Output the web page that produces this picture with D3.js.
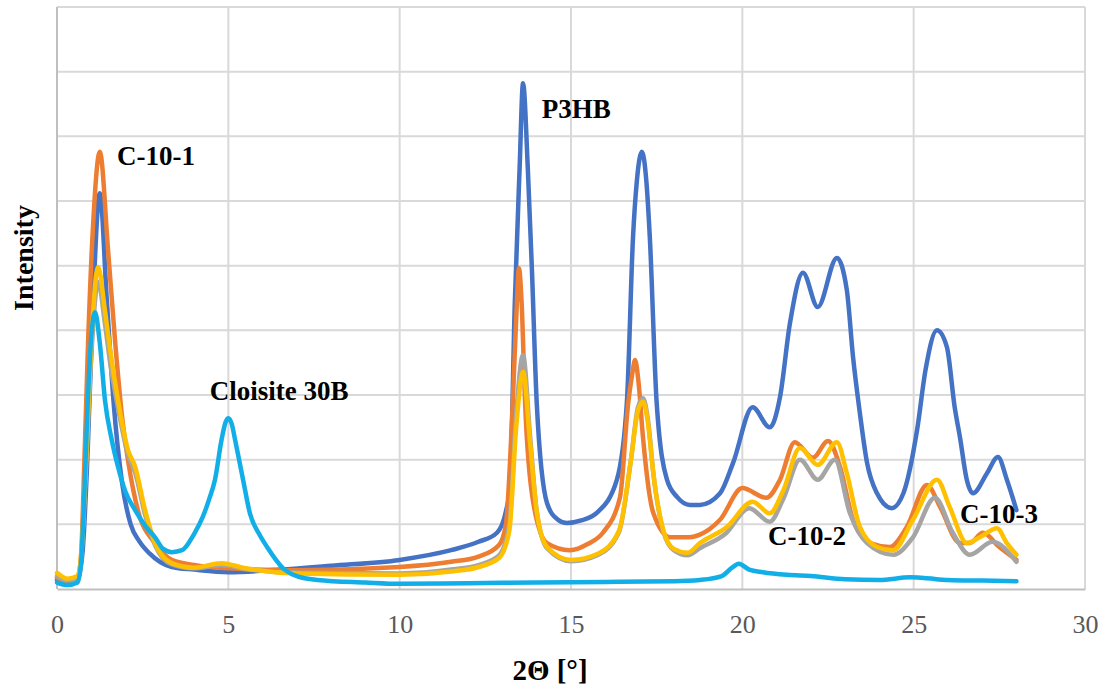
<!DOCTYPE html>
<html>
<head>
<meta charset="utf-8">
<script src="https://cdn.jsdelivr.net/npm/d3@7"></script>
<style>
  body { margin: 0; background: #fff; }
  svg { display: block; }
</style>
</head>
<body>
<div id="chart"></div>
<script>
// XRD patterns, 2theta [deg] vs intensity (arbitrary units)
const p3hb = [[0,0.14],[0.3,0.1],[0.6,0.15],[0.75,0.6],[0.9,2.2],[1.05,4.4],[1.25,6.12],[1.45,4.5],[1.65,2.9],[1.9,1.64],[2.15,1.0],[2.4,0.74],[2.7,0.55],[3.35,0.34],[4,0.3],[5,0.26],[6.5,0.3],[8,0.36],[10,0.45],[11.5,0.6],[12.3,0.73],[12.84,0.87],[13.1,1.2],[13.22,1.58],[13.36,4.42],[13.5,6.5],[13.6,7.82],[13.74,6.5],[13.86,4.93],[14.0,2.88],[14.3,1.33],[14.6,1.08],[14.88,1.02],[15.3,1.06],[15.76,1.18],[16.34,1.69],[16.63,2.88],[16.81,5.44],[16.92,6.3],[17.07,6.76],[17.2,6.3],[17.3,5.44],[17.5,2.88],[17.8,1.69],[18.1,1.42],[18.47,1.3],[18.76,1.3],[19.35,1.48],[19.73,1.95],[20.3,2.81],[20.8,2.5],[21.1,2.97],[21.39,4.11],[21.77,4.89],[22.2,4.36],[22.76,5.12],[23.05,4.62],[23.23,3.59],[23.43,2.72],[23.64,1.95],[23.93,1.48],[24.36,1.25],[24.7,1.48],[25.1,2.46],[25.35,3.4],[25.68,4.0],[25.97,3.74],[26.2,2.8],[26.35,2.35],[26.55,1.69],[26.73,1.48],[27.14,1.79],[27.46,2.04],[27.72,1.69],[28.0,1.22]];

const c101 = [[0,0.17],[0.3,0.12],[0.6,0.18],[0.7,0.5],[0.8,2.0],[0.9,3.7],[1.05,5.6],[1.25,6.76],[1.49,5.24],[1.7,3.8],[1.9,2.66],[2.1,1.9],[2.36,1.22],[2.86,0.71],[3.35,0.45],[4,0.37],[5,0.32],[7,0.29],[10,0.34],[11.5,0.42],[12.3,0.5],[12.9,0.68],[13.1,1.0],[13.3,2.88],[13.42,4.42],[13.48,4.96],[13.56,4.42],[13.66,2.88],[13.9,1.33],[14.3,0.71],[14.97,0.6],[15.5,0.7],[15.93,0.87],[16.43,1.42],[16.67,2.88],[16.78,3.3],[16.87,3.54],[16.97,3.2],[17.1,2.35],[17.4,1.18],[17.9,0.8],[18.47,0.8],[18.76,0.84],[19.35,1.07],[20.0,1.56],[20.7,1.41],[21.1,1.69],[21.53,2.27],[22.06,2.03],[22.5,2.29],[22.85,1.89],[23.23,1.07],[23.73,0.71],[24.3,0.65],[24.8,0.96],[25.39,1.61],[25.77,1.27],[26.35,0.71],[26.64,0.71],[27.02,0.87],[27.5,0.65],[28.0,0.45]];

const c102 = [[0,0.2],[0.3,0.13],[0.6,0.17],[0.7,0.45],[0.85,1.9],[1.0,3.6],[1.2,4.75],[1.4,4.1],[1.55,3.5],[1.78,2.8],[2.07,2.08],[2.28,1.8],[2.57,1.15],[2.86,0.68],[3.35,0.38],[4.0,0.32],[4.8,0.37],[5.5,0.31],[7,0.25],[10,0.24],[11.5,0.3],[12.3,0.37],[12.9,0.52],[13.2,1.0],[13.4,2.7],[13.6,3.62],[13.8,2.4],[14.0,1.2],[14.3,0.63],[15.0,0.43],[15.8,0.53],[16.4,0.88],[16.75,2.0],[16.95,2.8],[17.1,2.95],[17.25,2.6],[17.4,1.8],[17.7,0.88],[18.0,0.6],[18.4,0.52],[18.76,0.63],[19.5,0.85],[20.2,1.25],[20.8,1.04],[21.2,1.4],[21.68,2.0],[22.2,1.69],[22.7,2.0],[23.14,1.17],[23.64,0.71],[24.4,0.53],[24.98,0.8],[25.62,1.41],[26.14,0.87],[26.64,0.53],[27.3,0.73],[28.0,0.42]];

const c103 = [[0,0.25],[0.3,0.16],[0.6,0.2],[0.7,0.5],[0.85,2.0],[1.0,3.8],[1.2,4.98],[1.4,4.3],[1.55,3.7],[1.78,2.92],[2.07,2.15],[2.28,1.89],[2.57,1.22],[2.86,0.71],[3.35,0.4],[4.0,0.33],[4.8,0.4],[5.5,0.32],[7,0.24],[10,0.22],[11.5,0.27],[12.3,0.34],[12.9,0.48],[13.2,0.9],[13.4,2.5],[13.6,3.36],[13.8,2.3],[14.0,1.2],[14.3,0.65],[15.0,0.45],[15.8,0.55],[16.4,0.9],[16.75,2.0],[16.95,2.75],[17.1,2.9],[17.25,2.55],[17.4,1.8],[17.7,0.9],[18.0,0.62],[18.4,0.56],[18.76,0.71],[19.55,0.96],[20.3,1.35],[20.8,1.17],[21.2,1.53],[21.68,2.18],[22.2,1.92],[22.76,2.27],[23.05,1.79],[23.43,0.96],[23.93,0.65],[24.4,0.6],[24.98,1.07],[25.68,1.69],[26.05,1.27],[26.55,0.71],[26.93,0.8],[27.43,0.94],[27.72,0.71],[28.0,0.53]];

const cloisite = [[0,0.1],[0.3,0.06],[0.6,0.1],[0.7,0.4],[0.8,1.5],[0.88,2.66],[1.0,3.9],[1.11,4.28],[1.25,3.8],[1.4,2.92],[1.6,2.3],[1.78,1.89],[2.0,1.5],[2.28,1.22],[2.57,0.98],[2.86,0.8],[3.1,0.62],[3.35,0.57],[3.65,0.6],[4.0,0.85],[4.25,1.11],[4.46,1.42],[4.61,1.69],[4.8,2.3],[4.92,2.58],[5.0,2.64],[5.1,2.55],[5.2,2.3],[5.43,1.69],[5.63,1.17],[5.9,0.85],[6.13,0.65],[6.6,0.32],[7.0,0.2],[7.6,0.14],[9,0.1],[10,0.08],[12,0.09],[14,0.1],[16,0.11],[18,0.12],[18.76,0.14],[19.4,0.2],[19.7,0.33],[19.9,0.39],[20.2,0.3],[20.6,0.26],[21.3,0.22],[22.0,0.2],[23,0.15],[24,0.14],[24.9,0.18],[25.3,0.17],[26,0.14],[27,0.13],[28,0.12]];

const xTicks = [0, 5, 10, 15, 20, 25, 30];

// draw order: first one at the bottom
const series = [
    {name: 'P3HB', values: p3hb, color: '#4472C4'},
    {name: 'C-10-1', values: c101, color: '#ED7D31'},
    {name: 'C-10-2', values: c102, color: '#A5A5A5'},
    {name: 'C-10-3', values: c103, color: '#FFC000'},
    {name: 'Cloisite 30B', values: cloisite, color: '#12AEE8'}
];

// curve labels, anchored in data units (left edge, baseline)
const labels = [
    {text: 'C-10-1', x: 1.75, y: 6.56},
    {text: 'P3HB', x: 14.15, y: 7.28},
    {text: 'Cloisite 30B', x: 4.46, y: 2.92},
    {text: 'C-10-2', x: 20.75, y: 0.68},
    {text: 'C-10-3', x: 26.35, y: 1.02}
];

const width = 1105, height = 685;
const margin = {top: 7, right: 20, bottom: 96, left: 57};
const serif = '"Liberation Serif", "Times New Roman", serif';

const svg = d3.select('#chart').append('svg')
    .attr('width', width)
    .attr('height', height);

const xScale = d3.scaleLinear()
    .domain([0, 30])
    .range([margin.left, width - margin.right]);

const yScale = d3.scaleLinear()
    .domain([0, 9])
    .range([height - margin.bottom, margin.top]);

// gridlines
svg.append('g')
    .selectAll('line')
    .data(d3.range(1, 10))
    .enter().append('line')
    .attr('x1', xScale(0)).attr('x2', xScale(30))
    .attr('y1', d => yScale(d)).attr('y2', d => yScale(d))
    .attr('stroke', '#D9D9D9').attr('stroke-width', 2);

svg.append('g')
    .selectAll('line')
    .data(xTicks.slice(1))
    .enter().append('line')
    .attr('x1', d => xScale(d)).attr('x2', d => xScale(d))
    .attr('y1', yScale(0)).attr('y2', yScale(9))
    .attr('stroke', '#D9D9D9').attr('stroke-width', 2);

// axis lines
svg.append('line')
    .attr('x1', xScale(0)).attr('x2', xScale(0))
    .attr('y1', yScale(0)).attr('y2', yScale(9))
    .attr('stroke', '#BFBFBF').attr('stroke-width', 2);

const xAxis = svg.append('g')
    .attr('transform', `translate(0, ${yScale(0)})`)
    .call(d3.axisBottom(xScale).tickValues(xTicks).tickSize(0).tickPadding(26));
xAxis.select('.domain').attr('stroke', '#BFBFBF').attr('stroke-width', 2);
xAxis.selectAll('text')
    .attr('fill', '#595959')
    .style('font-family', serif)
    .style('font-size', '26px');

// curves
const line = d3.line()
    .x(d => xScale(d[0]))
    .y(d => yScale(d[1]))
    .curve(d3.curveMonotoneX);

svg.append('g')
    .selectAll('path')
    .data(series)
    .enter().append('path')
    .attr('d', d => line(d.values))
    .attr('fill', 'none')
    .attr('stroke', d => d.color)
    .attr('stroke-width', 4.5)
    .attr('stroke-linejoin', 'round')
    .attr('stroke-linecap', 'round');

// curve labels
svg.append('g')
    .selectAll('text')
    .data(labels)
    .enter().append('text')
    .attr('x', d => xScale(d.x))
    .attr('y', d => yScale(d.y))
    .style('font-family', serif)
    .style('font-weight', 'bold')
    .style('font-size', '27px')
    .text(d => d.text);

// axis titles
svg.append('text')
    .attr('x', 550)
    .attr('y', 680)
    .attr('text-anchor', 'middle')
    .style('font-family', serif)
    .style('font-weight', 'bold')
    .style('font-size', '29px')
    .text('2Θ [°]');

svg.append('text')
    .attr('transform', 'translate(33, 258) rotate(-90)')
    .attr('text-anchor', 'middle')
    .style('font-family', serif)
    .style('font-weight', 'bold')
    .style('font-size', '28px')
    .text('Intensity');
</script>
</body>
</html>
